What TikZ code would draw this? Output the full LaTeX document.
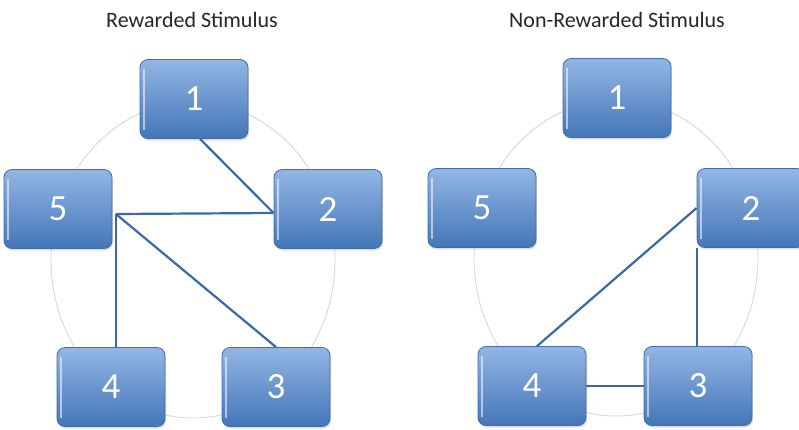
\documentclass[tikz,border=0pt]{standalone}
\usepackage{fontspec}
\setmainfont{Carlito}
\usepackage{tikz}
\usetikzlibrary{shadows}

\definecolor{boxtop}{RGB}{146,182,228}
\definecolor{boxbot}{RGB}{68,118,184}
\definecolor{boxline}{RGB}{66,108,168}
\definecolor{linkcol}{RGB}{62,104,162}
\definecolor{ringcol}{RGB}{215,215,215}

\begin{document}
\begin{tikzpicture}[
        x=1pt, y=-1pt,
        stim/.style={rectangle, draw=boxline, line width=0.8pt, rounded corners=8pt,
            top color=boxtop, bottom color=boxbot, minimum width=108pt, minimum height=79pt,
            inner sep=0pt, text=white, font=\fontsize{37}{40}\selectfont,
            drop shadow={opacity=0.25, shadow xshift=1pt, shadow yshift=-2pt},
            path picture={\draw[white, opacity=0.55, line width=1.2pt]
                ([xshift=4pt,yshift=-9pt]path picture bounding box.north west) --
                ([xshift=4pt,yshift=9pt]path picture bounding box.south west);}},
        ring/.style={draw=ringcol, line width=0.9pt},
        link/.style={draw=linkcol, line width=2.2pt},
        heading/.style={font=\fontsize{22}{26}\selectfont, text=black!85}
        ]

        \useasboundingbox (0,0) rectangle (799,429);

        % rings behind the boxes
        \draw [ring] (193,260) ellipse [x radius=142, y radius=158];
        \draw [ring] (616,258) ellipse [x radius=142, y radius=158];

        % left: rewarded
        \node (titleL) [heading] at (192,20) {Rewarded Stimulus};
        \node (l1) [stim] at (194,99) {1};
        \node (l2) [stim] at (328,209) {2};
        \node (l3) [stim] at (276,387) {3};
        \node (l4) [stim] at (111,387) {4};
        \node (l5) [stim] at (58,209) {5};
        \coordinate (hub) at ([xshift=3.5pt,yshift=-5pt]l5.east);

        \draw [link] ([xshift=6pt]l1.south) -- ([yshift=-4pt]l2.west);
        \draw [link] (hub) -- ([yshift=-4pt]l2.west);
        \draw [link] (hub) -- (l3.north);
        \draw [link] (hub) -- (hub |- l4.north);

        % right: non-rewarded
        \node (titleR) [heading] at (617,20) {Non-Rewarded Stimulus};
        \node (r1) [stim] at (617,98) {1};
        \node (r2) [stim] at (751,208) {2};
        \node (r3) [stim] at (698,386) {3};
        \node (r4) [stim] at (532,386) {4};
        \node (r5) [stim] at (482,208) {5};

        \draw [link] (r2.west) -- ([xshift=5pt]r4.north);
        \draw [link] ([xshift=0.5pt]r2.south west) -- ([xshift=0.5pt]r2.south west |- r3.north);
        \draw [link] (r4.east) -- (r3.west);

    \end{tikzpicture}
\end{document}
